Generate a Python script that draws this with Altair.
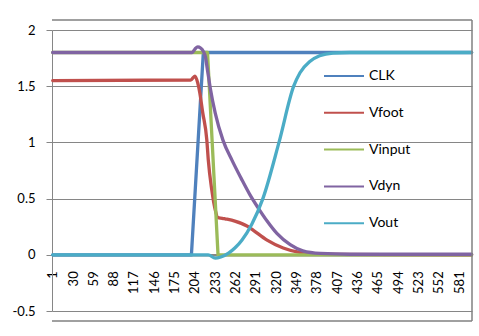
import altair as alt
import pandas as pd

SERIES = ["CLK", "Vfoot", "Vinput", "Vdyn", "Vout"]
COLORS = ["#4F81BD", "#C0504D", "#9BBB59", "#8064A2", "#4BACC6"]
X_TICKS = [1, 30, 59, 88, 117, 146, 175, 204, 233, 262, 291, 320, 349, 378,
           407, 436, 465, 494, 523, 552, 581]
Y_TICKS = [-0.5, 0, 0.5, 1, 1.5, 2]

CLK_X = [1, 199, 216, 599]
CLK_Y = [0, 0, 1.8, 1.8]

VINPUT_X = [1, 222, 237, 599]
VINPUT_Y = [1.8, 1.8, 0, 0]

VFOOT_X = [1, 198, 204, 208, 211, 215, 221, 223, 228, 233, 237, 243, 247, 261,
           280, 287, 307, 330, 350, 368, 411, 599]
VFOOT_Y = [1.55, 1.555, 1.59, 1.53, 1.44, 1.27, 1.02, 0.85, 0.58, 0.40, 0.33,
           0.325, 0.32, 0.30, 0.25, 0.22, 0.13, 0.06, 0.025, 0.01, 0.003, 0]

VDYN_X = [1, 200, 204, 208, 212, 216, 219, 222, 226, 233, 244, 257, 270, 282,
          294, 307, 321, 340, 358, 383, 425, 599]
VDYN_Y = [1.8, 1.8, 1.83, 1.85, 1.84, 1.81, 1.76, 1.64, 1.48, 1.26, 1.02, 0.84,
          0.68, 0.54, 0.42, 0.30, 0.19, 0.09, 0.035, 0.012, 0.005, 0.005]

VOUT_X = [1, 218, 223, 233, 241, 252, 261, 271, 285, 301, 324, 345, 354, 368,
          382, 401, 425, 599]
VOUT_Y = [0, 0, 0, -0.03, -0.02, 0.015, 0.06, 0.13, 0.27, 0.5, 1.0, 1.5, 1.62,
          1.72, 1.77, 1.795, 1.8, 1.8]

SERIES_DATA = {
    "CLK": (CLK_X, CLK_Y, "linear"),
    "Vfoot": (VFOOT_X, VFOOT_Y, "monotone"),
    "Vinput": (VINPUT_X, VINPUT_Y, "linear"),
    "Vdyn": (VDYN_X, VDYN_Y, "monotone"),
    "Vout": (VOUT_X, VOUT_Y, "monotone"),
}

FONT = "Lato"
GRAY = "#868686"
BORDER = "gray"
W, H = 420, 281
Y_ZERO_OFFSET = -(H * 0.5 / 2.5)

x_scale = alt.Scale(domain=[0, 599.5], nice=False, zero=False)
y_scale = alt.Scale(domain=[-0.5, 2], nice=False, zero=False)
color_scale = alt.Scale(domain=SERIES, range=COLORS)

x_axis = alt.Axis(values=X_TICKS, labelAngle=270, ticks=False, tickSize=0,
                  labelPadding=16, domainColor=GRAY, domainWidth=2.5, grid=False,
                  title=None, labelFont=FONT, labelFontSize=13, labelColor="black",
                  offset=Y_ZERO_OFFSET, labelOverlap=False, labelFlush=False,
                  format="d")
y_axis = alt.Axis(values=Y_TICKS, labelExpr="toString(datum.value)", grid=True,
                  gridColor=GRAY, gridWidth=1, domainColor=GRAY, tickColor=GRAY,
                  tickSize=6, labelPadding=11, title=None, labelFont=FONT,
                  labelFontSize=13, labelColor="black")
legend = alt.Legend(orient="none", legendX=271, legendY=39, symbolType="stroke",
                    symbolSize=1600, symbolStrokeWidth=2, labelFont=FONT,
                    labelFontSize=14, labelColor="black", labelOffset=4,
                    rowPadding=22.8, clipHeight=14, padding=0, title=None)

layers = []
for name in SERIES:
    xs, ys, interp = SERIES_DATA[name]
    df = pd.DataFrame({"i": xs, "v": ys, "series": name})
    layers.append(
        alt.Chart(df).mark_line(strokeWidth=3.3, interpolate=interp,
                                strokeCap="round", strokeJoin="round").encode(
            x=alt.X("i:Q", scale=x_scale, axis=x_axis),
            y=alt.Y("v:Q", scale=y_scale, axis=y_axis),
            color=alt.Color("series:N", scale=color_scale, legend=legend),
        )
    )

# outer chart-area border (Excel-style frame, decoration only)
top_edge = alt.Chart(pd.DataFrame({"k": [0]})).mark_rule(
    color=BORDER, strokeWidth=1.5).encode(
    x=alt.value(0), x2=alt.value(420), y=alt.value(-10))
bottom_edge = alt.Chart(pd.DataFrame({"k": [1]})).mark_rule(
    color=BORDER, strokeWidth=1.5).encode(
    x=alt.value(0), x2=alt.value(420), y=alt.value(291))
right_edge = alt.Chart(pd.DataFrame({"k": [2]})).mark_rule(
    color=BORDER, strokeWidth=1.5).encode(
    x=alt.value(420), y=alt.value(-10), y2=alt.value(291))

chart = alt.layer(*layers, top_edge, bottom_edge, right_edge).properties(
    width=W, height=H,
    autosize=alt.AutoSizeParams(type="none"),
    padding={"left": 52, "top": 30, "right": 7, "bottom": 25},
    background="white",
).configure_view(stroke=None)

chart.save("out.html", embed_options={"renderer": "svg", "actions": False})
